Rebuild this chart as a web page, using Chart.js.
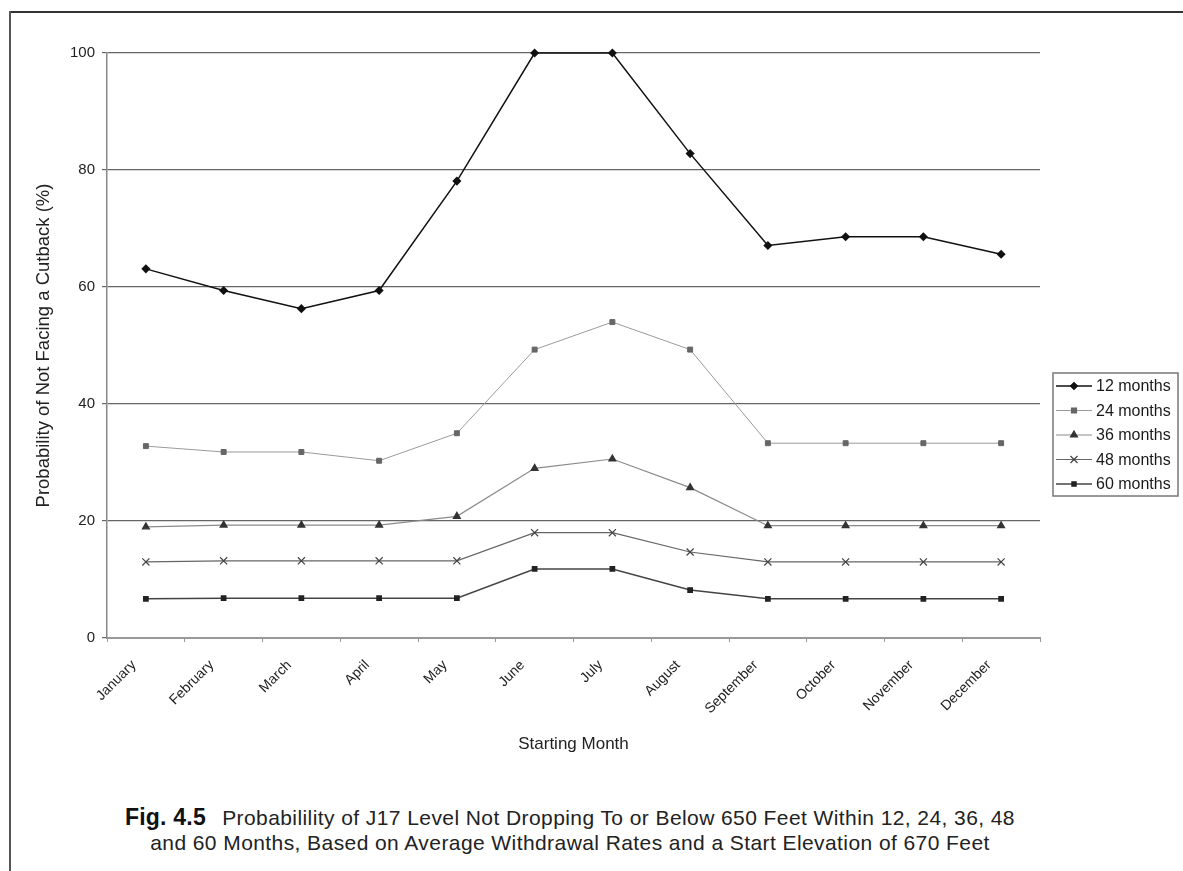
<!DOCTYPE html>
<html>
<head>
<meta charset="utf-8">
<script src="https://cdn.jsdelivr.net/npm/chart.js@4"></script>
<style>
  body{margin:0;background:#fff;width:1183px;height:871px;overflow:hidden;position:relative;font-family:"Liberation Sans",Arial,sans-serif}
  #marcoTop{position:absolute;left:10px;top:11px;width:1173px;height:2px;background:#333}
  #marcoLeft{position:absolute;left:9px;top:11px;width:2px;height:860px;background:#555}
  #grafico{position:absolute;left:0;top:0}
  #caption{position:absolute;left:0;top:805px;width:1140px;text-align:center;font-size:21px;line-height:25px;color:#222;letter-spacing:0.42px}
  #caption b{font-size:23px;color:#111;margin-right:10px;letter-spacing:0.2px}
</style>
</head>
<body>
<div id="marcoTop"></div>
<div id="marcoLeft"></div>
<canvas id="grafico" width="1183" height="780"></canvas>
<div id="caption"><b>Fig. 4.5</b> Probabilility of J17 Level Not Dropping To or Below 650 Feet Within 12, 24, 36, 48<br>and 60 Months, Based on Average Withdrawal Rates and a Start Elevation of 670 Feet</div>
<script>
const meses=["January","February","March","April","May","June","July","August","September","October","November","December"]
const yTicks=[0,20,40,60,80,100]

const m12=[63.1,59.4,56.3,59.4,78.1,100,100,82.8,67.1,68.6,68.6,65.6]
const m24=[32.8,31.8,31.8,30.3,35.0,49.3,54.0,49.3,33.3,33.3,33.3,33.3]
const m36=[19.0,19.3,19.3,19.3,20.8,29.0,30.6,25.7,19.2,19.2,19.2,19.2]
const m48=[13.0,13.2,13.2,13.2,13.2,18.0,18.0,14.7,13.0,13.0,13.0,13.0]
const m60=[6.7,6.8,6.8,6.8,6.8,11.8,11.8,8.2,6.7,6.7,6.7,6.7]

const ctx=document.getElementById('grafico');
const fuente='"Liberation Sans", Arial, sans-serif'

// leyenda dibujada a mano con recuadro, como en el original
const leyendaBox={
    id:'leyendaBox',
    afterDraw(chart){
        const c=chart.ctx;
        const x0=1053, y0=373, w=125, h=123;
        c.save();
        c.strokeStyle='#777';
        c.lineWidth=1.5;
        c.strokeRect(x0,y0,w,h);
        chart.data.datasets.forEach((ds,i)=>{
            const y=y0+13+i*24.5;
            c.strokeStyle=ds.borderColor;
            c.lineWidth=ds.borderWidth;
            c.beginPath();
            c.moveTo(x0+3,y);
            c.lineTo(x0+39,y);
            c.stroke();
            c.fillStyle=ds.pointBackgroundColor;
            c.strokeStyle=ds.pointBorderColor;
            c.lineWidth=1.2;
            Chart.helpers.drawPoint(c,{pointStyle:ds.pointStyle,radius:ds.pointRadius,rotation:0,borderWidth:1.2},x0+21,y);
            c.fillStyle='#1a1a1a';
            c.font='16px '+fuente;
            c.textBaseline='middle';
            c.fillText(ds.label,x0+43,y+1);
        });
        c.restore();
    }
}

const grafico=new Chart(ctx,{
    type:'line',
    data:{
        labels:meses,
        datasets:[
            {label:'12 months',data:m12,borderColor:'#111',borderWidth:1.5,pointStyle:'rectRot',pointRadius:3.5,pointBackgroundColor:'#111',pointBorderColor:'#111'},
            {label:'24 months',data:m24,borderColor:'#9a9a9a',borderWidth:1,pointStyle:'rect',pointRadius:3.5,pointBackgroundColor:'#666',pointBorderColor:'#666'},
            {label:'36 months',data:m36,borderColor:'#8a8a8a',borderWidth:1.2,pointStyle:'triangle',pointRadius:4,pointBackgroundColor:'#333',pointBorderColor:'#333'},
            {label:'48 months',data:m48,borderColor:'#666',borderWidth:1.2,pointStyle:'crossRot',pointRadius:5,pointBackgroundColor:'#444',pointBorderColor:'#444'},
            {label:'60 months',data:m60,borderColor:'#444',borderWidth:1.5,pointStyle:'rect',pointRadius:3,pointBackgroundColor:'#222',pointBorderColor:'#222'}
        ]
    },
    options:{
        responsive:false,
        animation:false,
        devicePixelRatio:1,
        clip:false,
        layout:{padding:{left:29,top:53,right:143,bottom:21}},
        plugins:{
            legend:{display:false},
            tooltip:{enabled:false}
        },
        scales:{
            x:{
                offset:true,
                afterFit:(s)=>{s.height=121},
                grid:{display:true,drawOnChartArea:false,offset:true,tickLength:4,color:'#999'},
                border:{color:'#999',width:2},
                ticks:{minRotation:45,maxRotation:45,padding:15,labelOffset:-12,color:'#222',font:{size:14,family:fuente}},
                title:{display:true,text:'Starting Month',color:'#222',font:{size:17,family:fuente}}
            },
            y:{
                min:0,
                max:100,
                afterFit:(s)=>{s.width=78},
                afterBuildTicks:(s)=>{s.ticks=yTicks.map(v=>({value:v}))},
                grid:{color:'#666',lineWidth:1.2,tickLength:5},
                border:{color:'#888',width:1.5},
                ticks:{padding:7,color:'#222',font:{size:15,family:fuente}},
                title:{display:true,text:'Probability of Not Facing a Cutback (%)',color:'#222',font:{size:18.5,family:fuente}}
            }
        }
    },
    plugins:[leyendaBox]
});
</script>
</body>
</html>
